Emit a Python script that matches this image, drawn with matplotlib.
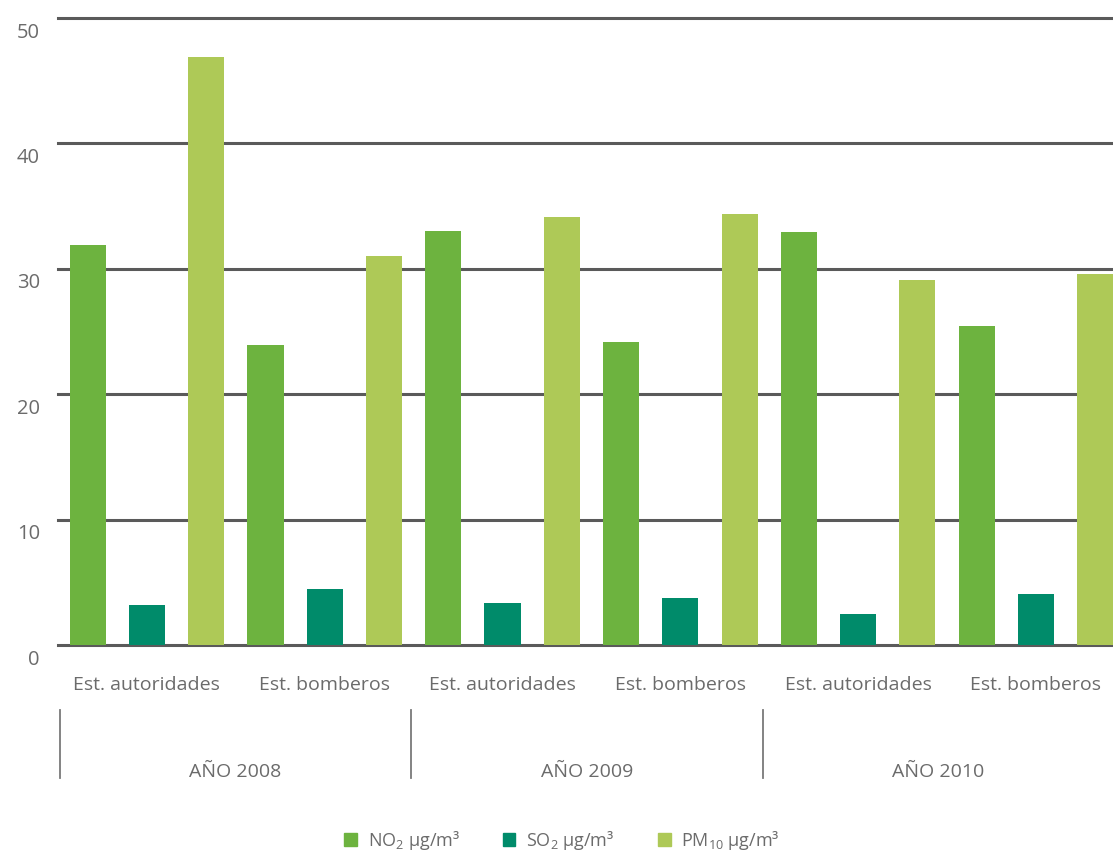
import matplotlib
matplotlib.use("Agg")
import numpy as np
import matplotlib.pyplot as plt
import matplotlib.transforms as mtransforms
from matplotlib.patches import Patch

plt.rcParams['font.family'] = ['Open Sans', 'DejaVu Sans']
plt.rcParams['mathtext.fontset'] = 'custom'
plt.rcParams['mathtext.rm'] = 'Open Sans'
plt.rcParams['mathtext.it'] = 'Open Sans'

# data
years = ['AÑO 2008', 'AÑO 2009', 'AÑO 2010']
stations = ['Est. autoridades', 'Est. bomberos']
no2 = [31.9, 23.9, 33.0, 24.2, 32.9, 25.4]
so2 = [3.2, 4.5, 3.35, 3.75, 2.5, 4.1]
pm10 = [46.9, 31.0, 34.1, 34.4, 29.1, 29.6]
series_labels = [r'NO$_{\mathregular{2}}$ µg/m³', r'SO$_{\mathregular{2}}$ µg/m³', r'PM$_{\mathregular{10}}$ µg/m³']
colors = ['#6db33f', '#008b6a', '#aec957']
grey = '#6b6b6b'

fig = plt.figure(figsize=(11.13, 8.55), dpi=100)
ax = fig.add_axes([58 / 1113, 1 - 645 / 855, 1 - 58 / 1113, (645 - 18) / 855])

n = len(no2)
base = np.arange(n) * 3
for k, vals in enumerate([no2, so2, pm10]):
    ax.bar(base + k, vals, width=0.61, color=colors[k], zorder=3)

ax.set_ylim(0, 50)
ax.set_xlim(-0.5, 17.3)
for v in range(0, 51, 10):
    ax.axhline(v, color='#5a5a5a', lw=2.2, zorder=2, clip_on=False)

for s in ax.spines.values():
    s.set_visible(False)
ax.set_xticks([])
ax.set_yticks(range(0, 51, 10))
ax.tick_params(axis='y', length=0, pad=13, labelsize=14.5, labelcolor=grey)
off = mtransforms.ScaledTranslation(0, -12 / 100, fig.dpi_scale_trans)
for lab in ax.get_yticklabels():
    lab.set_transform(lab.get_transform() + off)

trans = mtransforms.blended_transform_factory(ax.transData, fig.transFigure)
for i in range(n):
    ax.text(base[i] + 1, 1 - 685 / 855, stations[i % 2], transform=trans,
            ha='center', va='center', fontsize=14, color=grey)

seps = [-0.47, 5.45, 11.39]
for j, yr in enumerate(years):
    x0 = seps[j]
    ax.plot([x0, x0], [1 - 710 / 855, 1 - 778 / 855], transform=trans,
            color='#7a7a7a', lw=1.3, clip_on=False)
    x1 = seps[j + 1] if j + 1 < len(seps) else 17.3
    ax.text((x0 + x1) / 2, 1 - 772 / 855, yr, transform=trans,
            ha='center', va='center', fontsize=14, color=grey)

handles = [Patch(color=c) for c in colors]
fig.legend(handles, series_labels, loc='center', bbox_to_anchor=(0.505, 1 - 840 / 855),
           ncol=3, frameon=False, fontsize=13, labelcolor=grey,
           handlelength=0.7, handleheight=0.7, handletextpad=0.6, columnspacing=2.4)

fig.savefig('out.png', dpi=100)
